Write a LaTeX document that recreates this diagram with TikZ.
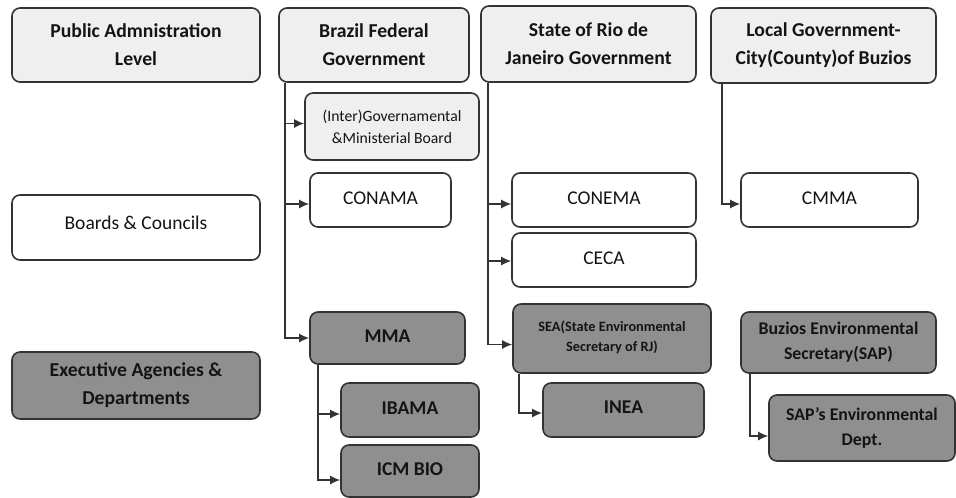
\documentclass[tikz,border=0pt]{standalone}
\usepackage{fontspec}
\setmainfont{Carlito}
\usetikzlibrary{arrows.meta}
\definecolor{lightfill}{HTML}{EFEFEF}
\definecolor{darkfill}{HTML}{8F8F8F}
\definecolor{edge}{HTML}{333333}
\tikzset{
  box/.style={draw=edge, line width=1.6pt, rounded corners=8pt, align=center, inner sep=2pt, text=black!92},
  light/.style={box, fill=lightfill},
  white/.style={box, fill=white},
  dark/.style={box, fill=darkfill},
  conn/.style={draw=edge, line width=1.5pt, -{Latex[length=10pt,width=9pt]}},
  hdr/.style={font=\fontsize{19.7}{28}\selectfont\bfseries},
  reg/.style={font=\fontsize{19.5}{26}\selectfont},
  bld/.style={font=\fontsize{19.5}{25}\selectfont\bfseries},
  bldm/.style={font=\fontsize{17.8}{25}\selectfont\bfseries},
}
\newcommand{\up}[2]{\raisebox{#1pt}{#2}}
\begin{document}
\begin{tikzpicture}[x=1pt,y=-1pt]
\useasboundingbox (0,0) rectangle (956,498);
% headers
\node[light,hdr,minimum width=248pt,minimum height=74pt] (pal) at (136,45) {Public Admnistration\\Level};
\node[light,hdr,minimum width=190pt,minimum height=74pt] (fed) at (374,45) {Brazil Federal\\Government};
\node[light,hdr,minimum width=215pt,minimum height=76pt] (rio) at (588.5,44) {State of Rio de\\Janeiro Government};
\node[light,hdr,minimum width=225pt,minimum height=75pt] (loc) at (823.5,45.5) {Local Government-\\City(County)of Buzios};
% level boxes
\node[white,reg,minimum width=248pt,minimum height=65pt] (boards) at (136,227.5) {\up{9}{Boards \& Councils}};
\node[dark,hdr,minimum width=248pt,minimum height=67pt] (exec) at (136,385.5) {Executive Agencies \&\\Departments};
% federal
\node[light,font=\fontsize{15.7}{22}\selectfont,minimum width=174pt,minimum height=67pt] (inter) at (392,126.5) {(Inter)Governamental\\\&Ministerial Board};
\node[white,reg,minimum width=141pt,minimum height=54pt] (conama) at (380.5,200) {\up{4}{CONAMA}};
\node[dark,bld,minimum width=155pt,minimum height=52pt] (mma) at (387.5,338) {\up{3}{MMA}};
\node[dark,bld,minimum width=138pt,minimum height=54pt] (ibama) at (410,410) {\up{4}{IBAMA}};
\node[dark,bld,minimum width=138pt,minimum height=52pt] (icm) at (410,471) {\up{4}{ICM BIO}};
% state
\node[white,reg,minimum width=184pt,minimum height=54pt] (conema) at (604,200) {\up{4}{CONEMA}};
\node[white,reg,minimum width=184pt,minimum height=54pt] (ceca) at (604,260) {\up{3}{CECA}};
\node[dark,font=\fontsize{14.3}{21}\selectfont\bfseries,minimum width=198pt,minimum height=69pt] (sea) at (612,338.5) {\up{4}{\shortstack{SEA(State Environmental\\[4pt]Secretary of RJ)}}};
\node[dark,bld,minimum width=161pt,minimum height=54pt] (inea) at (623.5,410) {\up{5}{INEA}};
% local
\node[white,reg,minimum width=177pt,minimum height=54pt] (cmma) at (829.5,200) {\up{4}{CMMA}};
\node[dark,bldm,minimum width=195pt,minimum height=61pt] (buz) at (838.5,342.5) {Buzios Environmental\\Secretary(SAP)};
\node[dark,bldm,minimum width=186pt,minimum height=66pt] (sapd) at (862,428) {SAP’s Environmental\\Dept.};
% connectors
\draw[conn] ([xshift=7pt]fed.south west) |- ([yshift=3pt]inter.west);
\draw[conn] ([xshift=7pt]fed.south west) |- ([yshift=-4pt]conama.west);
\draw[conn] ([xshift=7pt]fed.south west) |- (mma.west);
\draw[conn] ([xshift=9pt]mma.south west) |- ([yshift=-4pt]ibama.west);
\draw[conn] ([xshift=9pt]mma.south west) |- ([yshift=-9pt]icm.west);
\draw[conn] ([xshift=8pt]rio.south west) |- ([yshift=-4pt]conema.west);
\draw[conn] ([xshift=8pt]rio.south west) |- ([yshift=-1pt]ceca.west);
\draw[conn] ([xshift=8pt]rio.south west) |- ([yshift=-6pt]sea.west);
\draw[conn] ([xshift=7pt]sea.south west) |- ([yshift=-3pt]inea.west);
\draw[conn] ([xshift=12pt]loc.south west) |- ([yshift=-4pt]cmma.west);
\draw[conn] ([xshift=10pt]buz.south west) |- ([yshift=-8pt]sapd.west);
\end{tikzpicture}
\end{document}
